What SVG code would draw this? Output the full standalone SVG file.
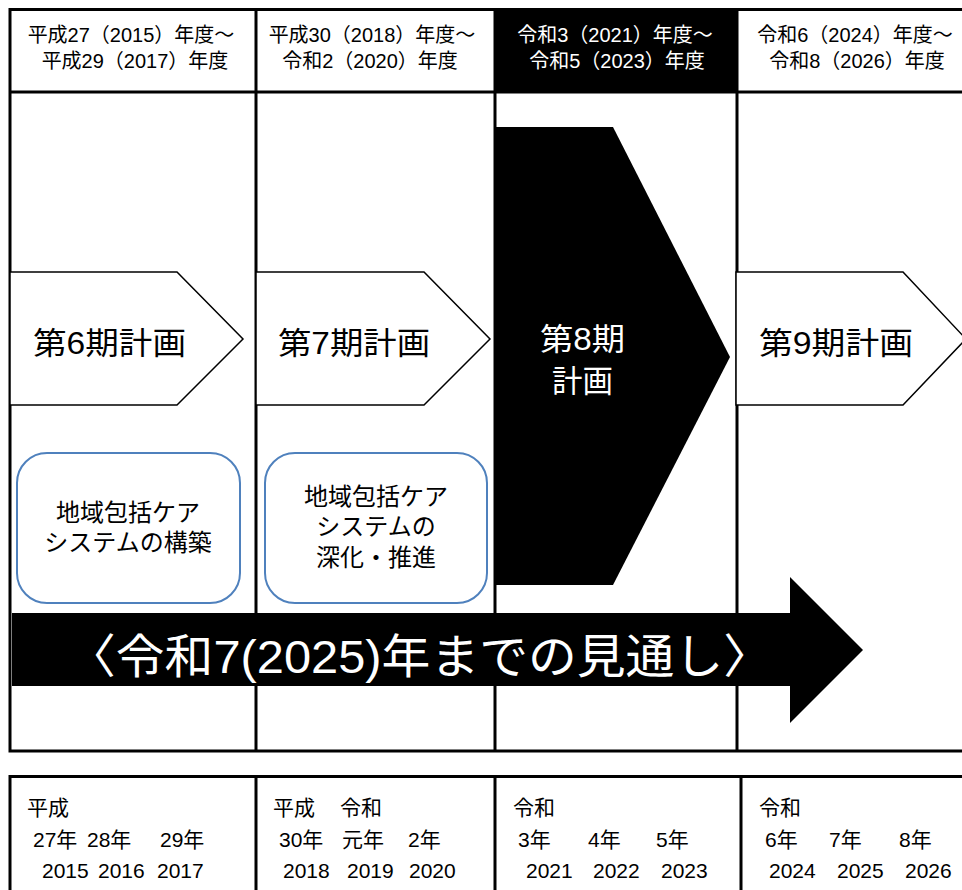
<svg xmlns="http://www.w3.org/2000/svg" width="962" height="890" viewBox="0 0 962 890">
<style>
.ln{stroke:#000;stroke-width:3;fill:none}
.chev{fill:#fff;stroke:#000;stroke-width:1.5}
.box{fill:#fff;stroke:#4f81bd;stroke-width:2}
text{font-family:"Liberation Sans","Noto Sans CJK JP",sans-serif;fill:#000}
.hd{font-size:20px;text-anchor:middle}
.pl{font-size:31px}
.bx{font-size:24px;text-anchor:middle}
.yr{font-size:21px}
.wh{fill:#fff}
</style>
<rect width="962" height="890" fill="#fff"/>
<g id="header-cells">
<rect x="495" y="8" width="242" height="84" fill="#000"/>
</g>
<g id="grid">
<path class="ln" d="M10 9.5H962M10 92H962M10 751H962M10 8V752.5M256 8V752M495 8V752M737 8V752"/>
<path class="ln" d="M10 776.5H962M10 775V890M256 775V890M495 775V890M741 775V890"/>
</g>
<g id="headers">
<text class="hd" x="131" y="42">平成27（2015）年度～</text>
<text class="hd" x="135" y="68">平成29（2017）年度</text>
<text class="hd" x="372" y="42">平成30（2018）年度～</text>
<text class="hd" x="370" y="68">令和2（2020）年度</text>
<text class="hd wh" x="615" y="42">令和3（2021）年度～</text>
<text class="hd wh" x="617" y="68">令和5（2023）年度</text>
<text class="hd" x="855" y="42">令和6（2024）年度～</text>
<text class="hd" x="857" y="68">令和8（2026）年度</text>
</g>
<g id="plan6">
<polygon class="chev" points="10,272 177,272 243,339 177,405 10,405"/>
<text class="pl" x="33" y="354" textLength="153" lengthAdjust="spacingAndGlyphs">第6期計画</text>
</g>
<g id="plan7">
<polygon class="chev" points="256,272 424,272 490,339 424,405 256,405"/>
<text class="pl" x="278" y="354" textLength="152" lengthAdjust="spacingAndGlyphs">第7期計画</text>
</g>
<g id="plan8">
<polygon points="495,127 613,127 730,357 613,585 495,585" fill="#000"/>
<text class="pl wh" x="540" y="350" textLength="85" lengthAdjust="spacingAndGlyphs">第8期</text>
<text class="pl wh" x="552" y="392" textLength="61" lengthAdjust="spacingAndGlyphs">計画</text>
</g>
<g id="plan9">
<polygon class="chev" points="736,272 903,272 966,339 903,405 736,405"/>
<text class="pl" x="759" y="354" textLength="154" lengthAdjust="spacingAndGlyphs">第9期計画</text>
</g>
<g id="box6">
<rect class="box" x="17" y="453" width="223" height="150" rx="30"/>
<text class="bx" x="128" y="521">地域包括ケア</text>
<text class="bx" x="128" y="551">システムの構築</text>
</g>
<g id="box7">
<rect class="box" x="265" y="453" width="222" height="150" rx="30"/>
<text class="bx" x="376" y="505">地域包括ケア</text>
<text class="bx" x="376" y="535">システムの</text>
<text class="bx" x="376" y="566">深化・推進</text>
</g>
<g id="outlook">
<polygon points="12,613 790,613 790,577 863,650 790,723 790,686 12,686" fill="#000"/>
<text class="wh" x="67" y="673" font-size="47" textLength="705" lengthAdjust="spacingAndGlyphs">〈令和7(2025)年までの見通し〉</text>
</g>
<g id="years">
<text class="yr" x="27" y="815">平成</text>
<text class="yr" x="33" y="847">27年</text>
<text class="yr" x="87" y="847">28年</text>
<text class="yr" x="160" y="847">29年</text>
<text class="yr" x="42" y="878">2015</text>
<text class="yr" x="98" y="878">2016</text>
<text class="yr" x="157" y="878">2017</text>
<text class="yr" x="273" y="815">平成</text>
<text class="yr" x="340" y="815">令和</text>
<text class="yr" x="279" y="847">30年</text>
<text class="yr" x="342" y="847">元年</text>
<text class="yr" x="408" y="847">2年</text>
<text class="yr" x="283" y="878">2018</text>
<text class="yr" x="347" y="878">2019</text>
<text class="yr" x="409" y="878">2020</text>
<text class="yr" x="513" y="815">令和</text>
<text class="yr" x="518" y="847">3年</text>
<text class="yr" x="588" y="847">4年</text>
<text class="yr" x="656" y="847">5年</text>
<text class="yr" x="526" y="878">2021</text>
<text class="yr" x="593" y="878">2022</text>
<text class="yr" x="661" y="878">2023</text>
<text class="yr" x="759" y="815">令和</text>
<text class="yr" x="765" y="847">6年</text>
<text class="yr" x="829" y="847">7年</text>
<text class="yr" x="899" y="847">8年</text>
<text class="yr" x="769" y="878">2024</text>
<text class="yr" x="837" y="878">2025</text>
<text class="yr" x="905" y="878">2026</text>
</g>
</svg>
